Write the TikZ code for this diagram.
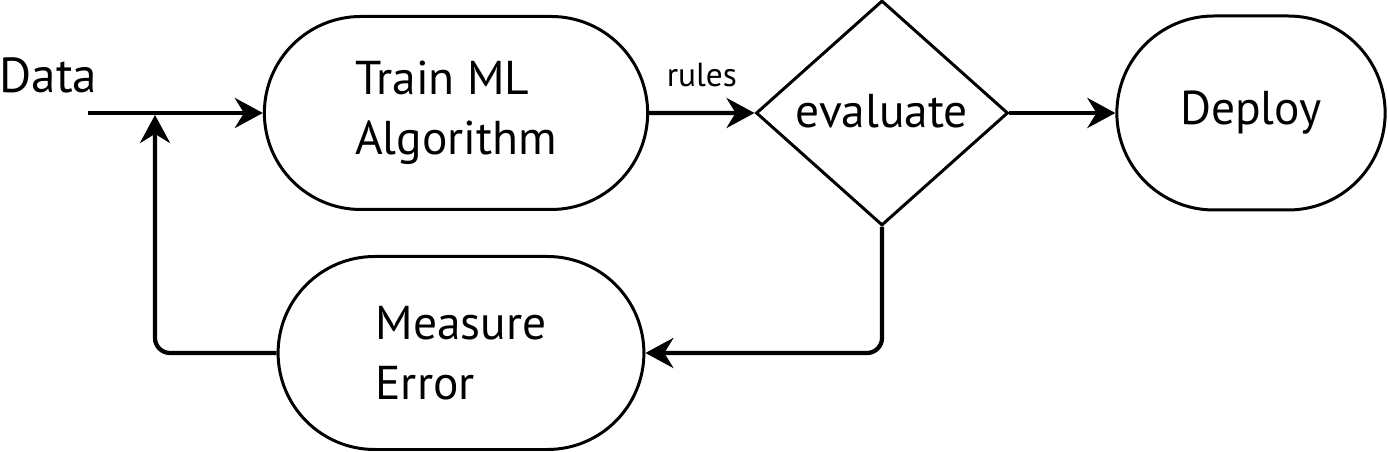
\documentclass[tikz,border=0pt]{standalone}
\usepackage{fontspec}
\setmainfont{PT Sans}
\usetikzlibrary{shapes.misc,shapes.geometric,arrows.meta}
\begin{document}
\begin{tikzpicture}[font=\fontsize{27}{34}\selectfont,
  stage/.style={draw, rounded rectangle, line width=1.7pt, align=left, minimum height=3.86cm},
  flow/.style={-{Stealth[length=0.56cm, width=0.6cm]}, line width=2.4pt}]
% training loop: train, evaluate, measure error, retrain
\useasboundingbox (0,0) rectangle (27.76,9.04);
\node[anchor=base, font=\fontsize{28}{34}\selectfont] (data) at (0.97,7.18) {Data};
\coordinate (src) at (1.76,6.78);
\coordinate (join) at (3.10,6.74);
\node[stage, minimum width=7.9cm] (train) at (9.12,6.78) {Train ML\\Algorithm};
\node[draw, diamond, line width=1.7pt, minimum width=5.04cm, minimum height=4.5cm, inner sep=0pt,
  font=\fontsize{27}{30}\selectfont] (eval) at (17.64,6.78) {\raisebox{0.1cm}{evaluate}};
\node[stage, minimum width=5.6cm, minimum height=3.88cm] (deploy) at (25.02,6.78) {Deploy};
\node[stage, minimum width=7.55cm] (meas) at (9.22,1.98) {Measure\\Error};
\draw[flow] (src) -- (train);
\draw[flow] (train) -- (eval) node[midway, anchor=base, yshift=0.52cm, font=\fontsize{19}{22}\selectfont] (rules) {rules};
\draw[flow] (eval) -- (deploy);
\draw[flow, rounded corners=0.3cm] (eval.south) |- (meas);
\draw[flow, rounded corners=0.3cm] (meas) -| (join);
\end{tikzpicture}
\end{document}
